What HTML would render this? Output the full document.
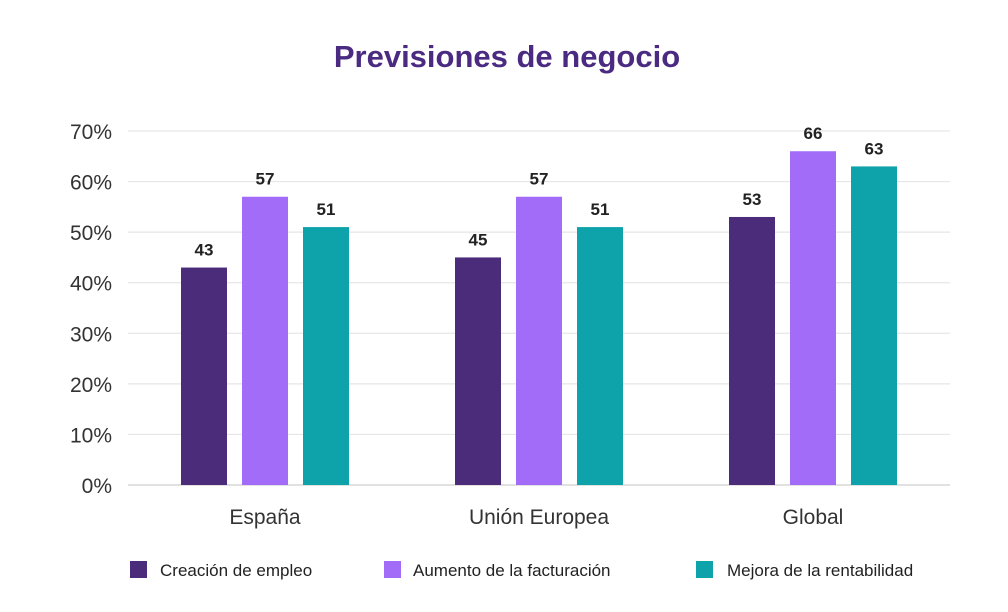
<!DOCTYPE html>
<html><head><meta charset="utf-8"><style>
body{margin:0;background:#fff;}
svg{display:block;font-family:"Liberation Sans",sans-serif;}
</style></head><body>
<svg id="c" width="1008" height="612">
<text x="507" y="67" text-anchor="middle" font-size="31" font-weight="bold" fill="#4b2a82">Previsiones de negocio</text>
<g id="grid"></g><g id="bars"></g>
<g>
<rect x="130" y="561" width="17" height="17" fill="#4a2c7a"/>
<text x="160" y="576" font-size="17" fill="#222">Creación de empleo</text>
<rect x="384" y="561" width="17" height="17" fill="#a36cf8"/>
<text x="413" y="576" font-size="17" fill="#222">Aumento de la facturación</text>
<rect x="696" y="561" width="17" height="17" fill="#0ea3ab"/>
<text x="727" y="576" font-size="17" fill="#222">Mejora de la rentabilidad</text>
</g>
</svg>
<script>
const categories=["España","Unión Europea","Global"];
const creacion=[43,45,53];
const aumento=[57,57,66];
const mejora=[51,51,63];
const yTicks=[0,10,20,30,40,50,60,70];
const NS="http://www.w3.org/2000/svg";
const y0=485,pxPer=(485-131)/70;
const y=v=>y0-v*pxPer;
const xGroup=i=>265+i*274;
function mk(t,a,p){const e=document.createElementNS(NS,t);for(const k in a)e.setAttribute(k,a[k]);p.appendChild(e);return e;}
const g=document.getElementById('grid'),b=document.getElementById('bars');
yTicks.forEach(t=>{
 const l=mk('line',{x1:128,x2:950,y1:y(t),y2:y(t),stroke:t===0?'#cfcfcf':'#e6e6e6','stroke-width':1.2},g);
 
 
 const tx=mk('text',{x:112,y:y(t)+8,'text-anchor':'end','font-size':21,fill:'#333'},g);
 tx.textContent=t+'%';
 
 
});
const series=[[creacion,'#4a2c7a','creacion'],[aumento,'#a36cf8','aumento'],[mejora,'#0ea3ab','mejora']];
categories.forEach((c,i)=>{
 const cx=xGroup(i);
 series.forEach((s,j)=>{
  const v=s[0][i],x=cx-84+j*61;
  const r=mk('rect',{x:x,y:y(v),width:46,height:y0-y(v),fill:s[1]},b);
  
  
  const t=mk('text',{x:x+23,y:y(v)-12,'text-anchor':'middle','font-size':17,'font-weight':'bold',fill:'#222'},b);
  t.textContent=v;
  
  
 });
 const t=mk('text',{x:cx,y:524,'text-anchor':'middle','font-size':21,fill:'#333'},b);
 t.textContent=c;
 
 
});
</script>
</body></html>
